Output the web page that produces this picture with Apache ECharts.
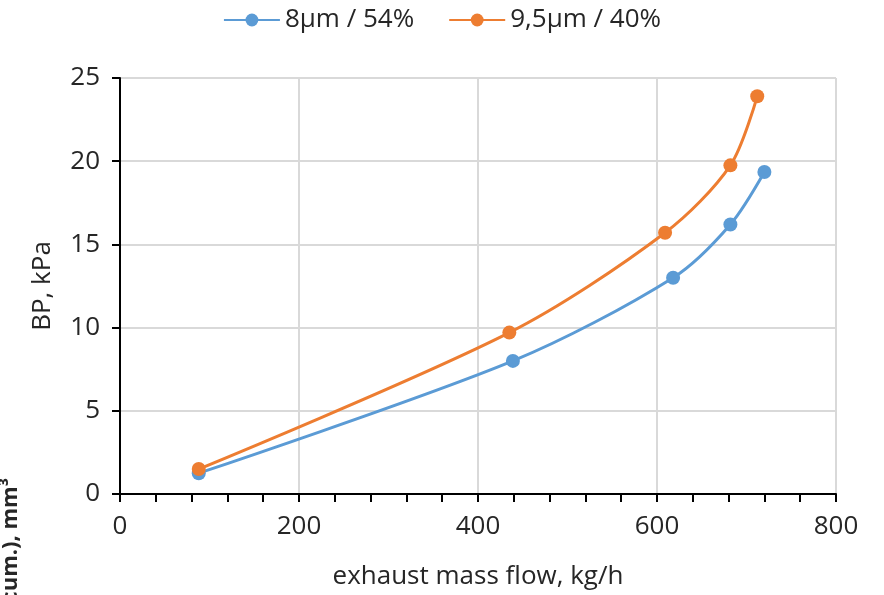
<!DOCTYPE html>
<html>
<head>
<meta charset="utf-8">
<script src="https://cdn.jsdelivr.net/npm/echarts@6/dist/echarts.min.js"></script>
<style>
html, body { margin: 0; padding: 0; background: #fff; }
#chart { width: 884px; height: 595px; }
</style>
</head>
<body>
<div id="chart"></div>
<script>
var seriesNames = ['8µm / 54%', '9,5µm / 40%'];
var flowA = [88, 439, 618, 682, 720];
var bpA = [1.25, 8.0, 13.0, 16.2, 19.35];
var flowB = [88, 435, 609, 682, 712];
var bpB = [1.5, 9.7, 15.7, 19.75, 23.9];
var colors = ['#5B9BD5', '#ED7D31'];

function pairs(xs, ys) {
    var out = [];
    for (var i = 0; i < xs.length; i++) out.push([xs[i], ys[i]]);
    return out;
}

var font = 'Open Sans, Liberation Sans, sans-serif';
var txt = '#262626';
var chart = echarts.init(document.getElementById('chart'));

var option = {
    animation: false,
    color: colors,
    legend: {
        top: 2,
        left: 'center',
        itemWidth: 56,
        itemHeight: 16,
        itemGap: 34,
        textStyle: { fontSize: 26, color: txt, fontFamily: font },
        data: seriesNames
    },
    grid: { left: 120, right: 48, top: 78, bottom: 101 },
    xAxis: {
        type: 'value',
        min: 0, max: 800, interval: 200,
        name: 'exhaust mass flow, kg/h',
        nameLocation: 'middle',
        nameGap: 70,
        nameTextStyle: { fontSize: 26, color: txt, fontFamily: font },
        axisLine: { lineStyle: { color: '#000', width: 2 } },
        axisTick: { length: 8, lineStyle: { color: '#000', width: 2 } },
        minorTick: { show: true, splitNumber: 5, length: 8, lineStyle: { color: '#000', width: 2 } },
        axisLabel: { fontSize: 26, color: txt, margin: 20, fontFamily: font },
        splitLine: { lineStyle: { color: '#d9d9d9', width: 2 } }
    },
    yAxis: {
        type: 'value',
        min: 0, max: 25, interval: 5,
        name: 'BP, kPa',
        nameLocation: 'middle',
        nameGap: 64,
        nameTextStyle: { fontSize: 26, color: txt, fontFamily: font },
        axisLine: { show: true, lineStyle: { color: '#000', width: 2 } },
        axisTick: { show: true, length: 8, lineStyle: { color: '#000', width: 2 } },
        axisLabel: { fontSize: 26, color: txt, margin: 20, fontFamily: font },
        splitLine: { lineStyle: { color: '#d9d9d9', width: 2 } }
    },
    graphic: [{
        type: 'text',
        x: 11, y: 478,
        rotation: Math.PI / 2,
        style: {
            text: 'cum.), mm³',
            fontSize: 22,
            fontWeight: 'bold',
            fontFamily: font,
            fill: txt,
            textAlign: 'right',
            textVerticalAlign: 'middle'
        }
    }],
    series: [{
        name: seriesNames[0],
        type: 'line',
        smooth: 0.3,
        symbol: 'circle',
        symbolSize: 14,
        lineStyle: { width: 3 },
        data: pairs(flowA, bpA)
    }, {
        name: seriesNames[1],
        type: 'line',
        smooth: 0.3,
        symbol: 'circle',
        symbolSize: 14,
        lineStyle: { width: 3 },
        data: pairs(flowB, bpB)
    }]
};
chart.setOption(option);
</script>
</body>
</html>
